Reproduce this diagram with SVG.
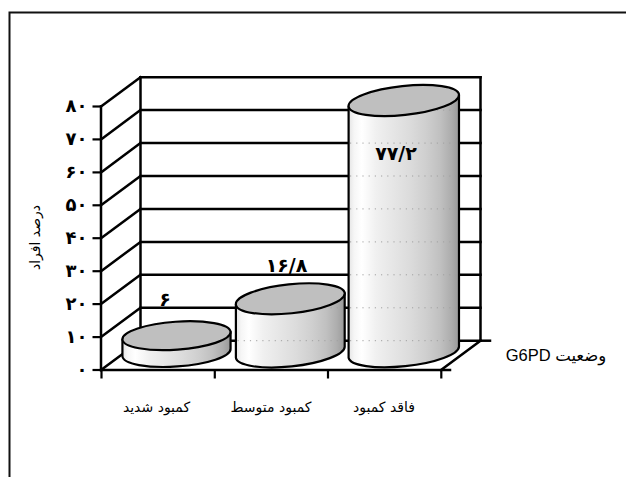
<svg xmlns="http://www.w3.org/2000/svg" width="626" height="477" viewBox="0 0 626 477">
<style>
.ax{stroke:#000;stroke-width:2.5;fill:none;stroke-linecap:square}
.tk{stroke:#000;stroke-width:2.2;fill:none}
.lbl{font-family:"DejaVu Sans",sans-serif;font-size:14px;fill:#000}
.num{font-family:"DejaVu Sans",sans-serif;font-size:18px;font-weight:bold;fill:#000}
.val{font-family:"DejaVu Sans",sans-serif;font-size:19px;font-weight:bold;fill:#000}
.body{fill:url(#bodyG);stroke:#000;stroke-width:2.2;stroke-linejoin:round}
.top{fill:#bfbfbf;stroke:#000;stroke-width:2.2}
.ghost{stroke:#a0a0a0;stroke-width:1;stroke-dasharray:1.2 5;fill:none}
</style>
<defs>
<linearGradient id="bodyG" x1="0" y1="0" x2="1" y2="0">
<stop offset="0" stop-color="#e4e4e4"/>
<stop offset="0.05" stop-color="#f6f6f6"/>
<stop offset="0.12" stop-color="#ffffff"/>
<stop offset="0.25" stop-color="#f0f0f0"/>
<stop offset="0.4" stop-color="#e6e6e6"/>
<stop offset="0.55" stop-color="#dcdcdc"/>
<stop offset="0.7" stop-color="#cfcfcf"/>
<stop offset="0.83" stop-color="#c0c0c0"/>
<stop offset="0.93" stop-color="#adadad"/>
<stop offset="1" stop-color="#999999"/>
</linearGradient>
</defs>
<rect width="626" height="477" fill="#fff"/>
<path id="frame" d="M9.5,477 V12.5 H626" fill="none" stroke="#111" stroke-width="2"/>

<g id="connectors">
  <g class="ax">
    <line x1="140.5" y1="77.2" x2="140.5" y2="340.7"/>
    <line x1="480.5" y1="77.2" x2="480.5" y2="340.7"/>
    <line x1="140.5" y1="77.2" x2="480.5" y2="77.2"/>
    <line x1="140.5" y1="110.1" x2="480.5" y2="110.1"/>
    <line x1="140.5" y1="143.1" x2="480.5" y2="143.1"/>
    <line x1="140.5" y1="176.0" x2="480.5" y2="176.0"/>
    <line x1="140.5" y1="208.9" x2="480.5" y2="208.9"/>
    <line x1="140.5" y1="241.9" x2="480.5" y2="241.9"/>
    <line x1="140.5" y1="274.8" x2="480.5" y2="274.8"/>
    <line x1="140.5" y1="307.8" x2="480.5" y2="307.8"/>
    <line x1="140.5" y1="340.7" x2="480.5" y2="340.7"/>
    <line x1="101" y1="106.5" x2="140.5" y2="77.2"/>
    <line x1="101" y1="139.4" x2="140.5" y2="110.1"/>
    <line x1="101" y1="172.4" x2="140.5" y2="143.1"/>
    <line x1="101" y1="205.3" x2="140.5" y2="176.0"/>
    <line x1="101" y1="238.2" x2="140.5" y2="208.9"/>
    <line x1="101" y1="271.2" x2="140.5" y2="241.9"/>
    <line x1="101" y1="304.1" x2="140.5" y2="274.8"/>
    <line x1="101" y1="337.1" x2="140.5" y2="307.8"/>
    <line x1="101" y1="370" x2="140.5" y2="340.7"/>
    <line x1="441" y1="370" x2="480.5" y2="340.7"/>
    <line x1="101" y1="370" x2="450" y2="370"/>
    <line x1="480.5" y1="340.7" x2="490" y2="340.7"/>
    <line x1="101" y1="106.5" x2="101" y2="370"/>
  </g>
  <g class="tk">
    <line x1="92.5" y1="106.5" x2="101" y2="106.5"/>
    <line x1="92.5" y1="139.4" x2="101" y2="139.4"/>
    <line x1="92.5" y1="172.4" x2="101" y2="172.4"/>
    <line x1="92.5" y1="205.3" x2="101" y2="205.3"/>
    <line x1="92.5" y1="238.2" x2="101" y2="238.2"/>
    <line x1="92.5" y1="271.2" x2="101" y2="271.2"/>
    <line x1="92.5" y1="304.1" x2="101" y2="304.1"/>
    <line x1="92.5" y1="337.1" x2="101" y2="337.1"/>
    <line x1="92.5" y1="370" x2="101" y2="370"/>
    <line x1="101.5" y1="370" x2="101.5" y2="378.5"/>
    <line x1="214.8" y1="370" x2="214.8" y2="378.5"/>
    <line x1="328" y1="370" x2="328" y2="378.5"/>
    <line x1="441.3" y1="370" x2="441.3" y2="378.5"/>
  </g>
</g>

<g id="bar-severe">
  <path class="body" d="M122.43,339.48 L122.43,356.28 A54.2,14,-4,0,0,230.57,348.72 L230.57,331.92 Z"/>
  <line class="ghost" x1="124" y1="340.7" x2="229" y2="340.7"/>
  <ellipse class="top" cx="176.5" cy="335.7" rx="54.2" ry="14" transform="rotate(-4 176.5 335.7)"/>
  <text class="val" x="165" y="305.5" text-anchor="middle">۶</text>
</g>

<g id="bar-moderate">
  <path class="body" d="M235.9,304.52 L235.9,357.72 A54.7,14.5,-6,0,0,344.7,346.28 L344.7,293.08 Z"/>
  <line class="ghost" x1="237.5" y1="340.7" x2="343" y2="340.7"/>
  <line class="ghost" x1="237.5" y1="307.8" x2="343" y2="307.8"/>
  <ellipse class="top" cx="290.3" cy="298.8" rx="54.7" ry="14.5" transform="rotate(-6 290.3 298.8)"/>
  <text class="val" x="286.5" y="272" text-anchor="middle">۱۶/۸</text>
</g>

<g id="bar-none">
  <path class="body" d="M348.61,106.3 L348.61,357.8 A55.5,14.5,-6,0,0,458.99,346.2 L458.99,94.7 Z"/>
  <g class="ghost">
    <line x1="350" y1="340.7" x2="457.5" y2="340.7"/>
    <line x1="350" y1="307.8" x2="457.5" y2="307.8"/>
    <line x1="350" y1="274.8" x2="457.5" y2="274.8"/>
    <line x1="350" y1="241.9" x2="457.5" y2="241.9"/>
    <line x1="350" y1="208.9" x2="457.5" y2="208.9"/>
    <line x1="350" y1="176.0" x2="457.5" y2="176.0"/>
    <line x1="350" y1="143.1" x2="457.5" y2="143.1"/>
    <line x1="350" y1="110.1" x2="457.5" y2="110.1"/>
  </g>
  <ellipse class="top" cx="403.8" cy="100.5" rx="55.5" ry="14.5" transform="rotate(-6 403.8 100.5)"/>
  <text class="val" x="396" y="160" text-anchor="middle">۷۷/۲</text>
</g>

<g id="value-axis-labels">
  <text class="num" x="87.5" y="112" text-anchor="end">۸۰</text>
  <text class="num" x="87.5" y="145" text-anchor="end">۷۰</text>
  <text class="num" x="87.5" y="178" text-anchor="end">۶۰</text>
  <text class="num" x="87.5" y="211" text-anchor="end">۵۰</text>
  <text class="num" x="87.5" y="244" text-anchor="end">۴۰</text>
  <text class="num" x="87.5" y="277" text-anchor="end">۳۰</text>
  <text class="num" x="87.5" y="310" text-anchor="end">۲۰</text>
  <text class="num" x="87.5" y="343" text-anchor="end">۱۰</text>
  <text class="num" x="87.5" y="376" text-anchor="end">۰</text>
</g>

<g id="axis-title">
  <text class="lbl" x="0" y="0" text-anchor="middle" font-size="13.5" transform="translate(40 237.5) rotate(-90)">درصد افراد</text>
</g>

<g id="category-labels">
  <text class="lbl" x="156.5" y="411.5" text-anchor="middle" font-size="14.5">کمبود شدید</text>
  <text class="lbl" x="271" y="411.5" text-anchor="middle" font-size="14.5">کمبود متوسط</text>
  <text class="lbl" x="384" y="411.5" text-anchor="middle" font-size="14.5">فاقد کمبود</text>
</g>

<g id="depth-label">
  <text x="556" y="360.5" text-anchor="middle" direction="rtl" font-family="'Liberation Sans','DejaVu Sans',sans-serif" font-size="16.5" fill="#000">وضعیت G6PD</text>
</g>
</svg>
